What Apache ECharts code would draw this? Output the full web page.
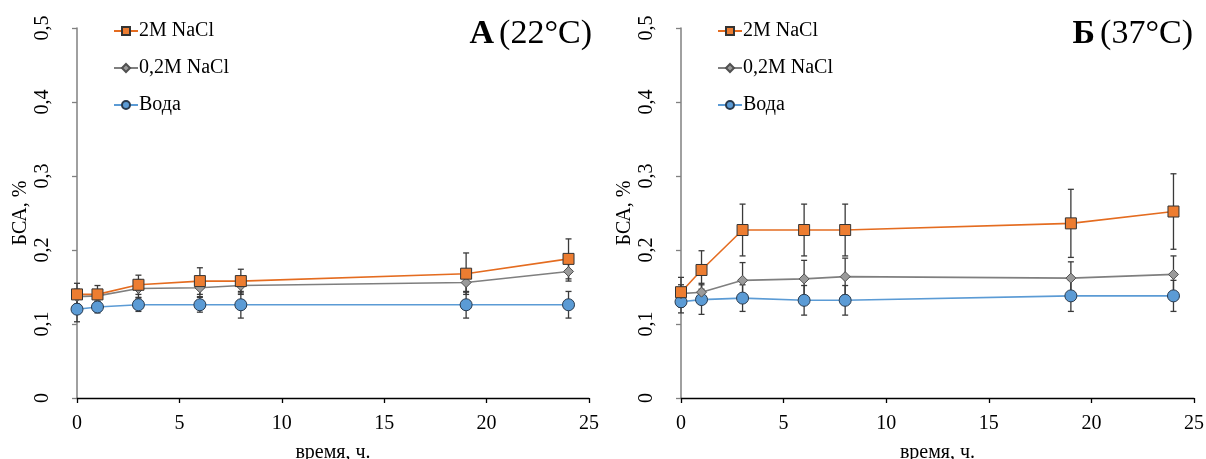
<!DOCTYPE html>
<html>
<head>
<meta charset="utf-8">
<script src="https://cdn.jsdelivr.net/npm/echarts@6/dist/echarts.min.js"></script>
<style>html,body{margin:0;padding:0;background:#fff}#c{width:1206px;height:459px}</style>
</head>
<body>
<div id="c"></div>
<script>
// ---- data ----
const timeH = [0, 1, 3, 6, 8, 19, 24];
const seriesNames = ['2M NaCl', '0,2M NaCl', 'Вода'];
const panelTitles = ['А', 'Б'];
const panelTemps = ['(22°C)', '(37°C)'];
const xTicks = [0, 5, 10, 15, 20, 25];
const yTicks = [0, 0.1, 0.2, 0.3, 0.4, 0.5];

// Panel A (22°C)
const a_2M       = [0.140, 0.140, 0.153, 0.158, 0.158, 0.168, 0.188];
const a_2M_err   = [0.015, 0.012, 0.013, 0.018, 0.016, 0.028, 0.027];
const a_02M      = [0.137, 0.138, 0.148, 0.149, 0.152, 0.156, 0.171];
const a_02M_err  = [0.010, 0.008, 0.012, 0.012, 0.012, 0.013, 0.013];
const a_water    = [0.120, 0.123, 0.126, 0.126, 0.126, 0.126, 0.126];
const a_water_err= [0.017, 0.008, 0.009, 0.010, 0.018, 0.018, 0.018];

// Panel Б (37°C)
const b_2M       = [0.143, 0.173, 0.227, 0.227, 0.227, 0.236, 0.252];
const b_2M_err   = [0.020, 0.026, 0.035, 0.035, 0.035, 0.046, 0.051];
const b_02M      = [0.141, 0.143, 0.159, 0.161, 0.164, 0.162, 0.167];
const b_02M_err  = [0.012, 0.012, 0.024, 0.025, 0.025, 0.022, 0.025];
const b_water    = [0.130, 0.133, 0.135, 0.132, 0.132, 0.138, 0.138];
const b_water_err= [0.015, 0.020, 0.018, 0.020, 0.020, 0.021, 0.021];

// ---- styling ----
const FONT = '"Liberation Serif", "Times New Roman", serif';
const styles = [
  {line: '#E46C20', fill: '#ED7D31', border: '#333333', symbol: 'rect', size: 11},
  {line: '#7f7f7f', fill: '#9a9a9a', border: '#505050', symbol: 'diamond', size: 10},
  {line: '#5B9BD5', fill: '#5B9BD5', border: '#27394d', symbol: 'circle', size: 12}
];
const panels = [
  {vals: [a_2M, a_02M, a_water], errs: [a_2M_err, a_02M_err, a_water_err]},
  {vals: [b_2M, b_02M, b_water], errs: [b_2M_err, b_02M_err, b_water_err]}
];

function pairs(v) { return timeH.map((t, i) => [t, v[i]]); }
function triples(v, e) { return timeH.map((t, i) => [t, v[i], e[i]]); }

function errRender(params, api) {
  const x = api.value(0), y = api.value(1), e = api.value(2);
  const top = api.coord([x, y + e]);
  const bot = api.coord([x, y - e]);
  const w = 3;
  const st = {stroke: '#3a3a3a', lineWidth: 1.3};
  return {type: 'group', children: [
    {type: 'line', shape: {x1: top[0], y1: top[1], x2: bot[0], y2: bot[1]}, style: st},
    {type: 'line', shape: {x1: top[0] - w, y1: top[1], x2: top[0] + w, y2: top[1]}, style: st},
    {type: 'line', shape: {x1: bot[0] - w, y1: bot[1], x2: bot[0] + w, y2: bot[1]}, style: st}
  ]};
}

const grids = [
  {left: 77, right: 617, top: 28, bottom: 61, containLabel: false, outerBoundsMode: 'none'},
  {left: 681, right: 12, top: 28, bottom: 61, containLabel: false, outerBoundsMode: 'none'}
];

const xAxes = grids.map((g, i) => ({
  type: 'value', gridIndex: i, min: xTicks[0], max: xTicks[xTicks.length - 1], interval: 5,
  name: 'время, ч.', nameLocation: 'middle', nameGap: 45,
  nameTextStyle: {fontFamily: FONT, fontSize: 20, color: '#000'},
  axisLine: {show: true, onZero: false, lineStyle: {color: '#000', width: 1.3}},
  axisTick: {show: true, length: 5, lineStyle: {color: '#000', width: 1.3}},
  axisLabel: {fontFamily: FONT, fontSize: 20, color: '#000', margin: 16},
  splitLine: {show: false}
}));

const yAxes = grids.map((g, i) => ({
  type: 'value', gridIndex: i, min: yTicks[0], max: yTicks[yTicks.length - 1], interval: 0.1,
  name: 'БСА, %', nameLocation: 'middle', nameGap: 46, nameRotate: 90,
  nameTextStyle: {fontFamily: FONT, fontSize: 20, color: '#000'},
  axisLine: {show: true, onZero: false, lineStyle: {color: '#808080', width: 1.5}},
  axisTick: {show: true, length: 5, lineStyle: {color: '#808080', width: 1.3}},
  axisLabel: {fontFamily: FONT, fontSize: 20, color: '#000', rotate: 90, margin: 24,
    formatter: v => String(Math.round(v * 10) / 10).replace('.', ',')},
  splitLine: {show: false}
}));

const series = [];
panels.forEach((p, pi) => {
  p.vals.forEach((v, si) => {
    series.push({
      type: 'custom', name: seriesNames[si] + ' err', xAxisIndex: pi, yAxisIndex: pi,
      renderItem: errRender, data: triples(v, p.errs[si]), encode: {x: 0, y: 1},
      z: 1, silent: true, clip: false
    });
  });
});
panels.forEach((p, pi) => {
  p.vals.forEach((v, si) => {
    const s = styles[si];
    series.push({
      type: 'line', name: seriesNames[si], xAxisIndex: pi, yAxisIndex: pi,
      data: pairs(v), symbol: s.symbol, symbolSize: s.size, showSymbol: true,
      lineStyle: {color: s.line, width: 1.6},
      itemStyle: {color: s.fill, borderColor: s.border, borderWidth: 1},
      z: 3 - si + 2, animation: false
    });
  });
});

const legends = [113, 717].map(l => ({
  data: seriesNames, left: l, top: 21, padding: 0, orient: 'vertical', itemGap: 17,
  itemWidth: 24, itemHeight: 10, selectedMode: false,
  textStyle: {fontFamily: FONT, fontSize: 20, color: '#000', padding: [0, 0, 0, -4]}
}));

const titles = [609, 8].map((r, i) => ({
  text: '{b|' + panelTitles[i] + '} {n|' + panelTemps[i] + '}',
  right: r, top: 12,
  textStyle: {fontWeight: 'normal', rich: {
    b: {fontFamily: FONT, fontSize: 34, fontWeight: 'bold', color: '#000'},
    n: {fontFamily: FONT, fontSize: 34, fontWeight: 'normal', color: '#000'}
  }}
}));

const chart = echarts.init(document.getElementById('c'), null, {renderer: 'canvas'});
chart.setOption({
  animation: false,
  backgroundColor: '#fff',
  title: titles,
  legend: legends,
  grid: grids,
  xAxis: xAxes,
  yAxis: yAxes,
  series: series
});
</script>
</body>
</html>
